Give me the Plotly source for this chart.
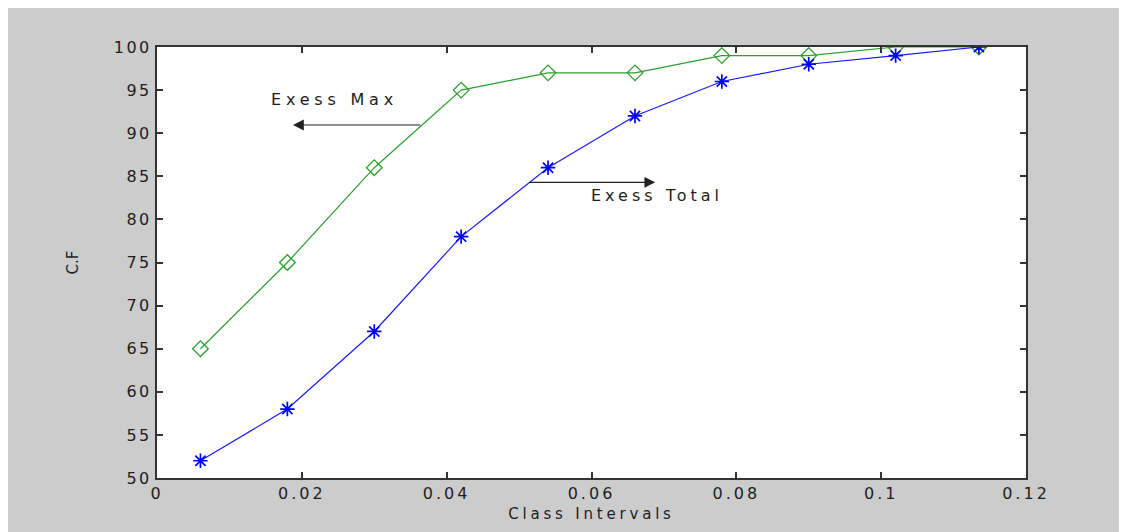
import plotly.graph_objects as go

class_intervals = [0.006, 0.018, 0.030, 0.042, 0.054, 0.066, 0.078, 0.090, 0.102, 0.1135]
exess_max = [65, 75, 86, 95, 97, 97, 99, 99, 100, 100]
exess_total = [52, 58, 67, 78, 86, 92, 96, 98, 99, 100]
x_ticks = [0, 0.02, 0.04, 0.06, 0.08, 0.1, 0.12]
x_tick_labels = ["0", "0.02", "0.04", "0.06", "0.08", "0.1", "0.12"]
y_ticks = list(range(50, 101, 5))
y_tick_labels = [str(v) for v in y_ticks]

FONT = "DejaVu Sans"
TXT = "#1e1e1e"


def spaced(s, px):
    return f'<span style="letter-spacing:{px}px">{s}</span>'


fig = go.Figure()
fig.add_trace(go.Scatter(
    x=class_intervals, y=exess_max, mode="lines+markers", name="Exess Max",
    line=dict(color="#2e9e2e", width=1.2),
    marker=dict(symbol="diamond-open", size=12, color="#2e9e2e", line=dict(width=1.3, color="#2e9e2e")),
))
fig.add_trace(go.Scatter(
    x=class_intervals, y=exess_total, mode="lines+markers", name="Exess Total",
    line=dict(color="#1a1aff", width=1.2),
    marker=dict(symbol="asterisk-open", size=12, color="#0000ff", line=dict(width=1.7, color="#0000ff")),
))

axis_common = dict(
    showgrid=False, zeroline=False, showline=True, linecolor="#333333", linewidth=2,
    mirror="allticks", ticks="inside", ticklen=6, tickcolor="#333333", tickwidth=1.5,
    tickfont=dict(family=FONT, size=16, color=TXT),
)
fig.update_xaxes(range=[0, 0.12], tickvals=x_ticks, ticktext=[spaced(t, 3) for t in x_tick_labels],
                 title=dict(text=spaced("Class Intervals", 3.8), font=dict(family=FONT, size=15, color=TXT), standoff=6),
                 **axis_common)
fig.update_yaxes(range=[50, 100], tickvals=y_ticks, ticktext=[spaced(t, 2.5) for t in y_tick_labels],
                 title=dict(text="C.F", font=dict(family=FONT, size=15, color=TXT), standoff=32),
                 **axis_common)

fig.add_annotation(x=0.01878, y=90.95, ax=0.0366, ay=90.95, xref="x", yref="y", axref="x", ayref="y",
                   text="", showarrow=True, arrowhead=2, arrowsize=1.8, arrowwidth=1.2, arrowcolor="#222222")
fig.add_annotation(x=0.0688, y=84.3, ax=0.0512, ay=84.3, xref="x", yref="y", axref="x", ayref="y",
                   text="", showarrow=True, arrowhead=2, arrowsize=1.8, arrowwidth=1.2, arrowcolor="#222222")
fig.add_annotation(x=0.0245, y=93.9, xref="x", yref="y", text=spaced("Exess Max", 4.8), showarrow=False,
                   font=dict(family=FONT, size=16, color=TXT))
fig.add_annotation(x=0.0691, y=82.8, xref="x", yref="y", text=spaced("Exess Total", 4), showarrow=False,
                   font=dict(family=FONT, size=16, color=TXT))

# page body adds an 8px white margin at top/left; figure sized to fit the window
fig.update_layout(
    width=1119, height=524,
    margin=dict(l=149, r=101, t=39, b=54),
    paper_bgcolor="#cccccc", plot_bgcolor="white",
    showlegend=False,
)

fig.write_html("out.html")
